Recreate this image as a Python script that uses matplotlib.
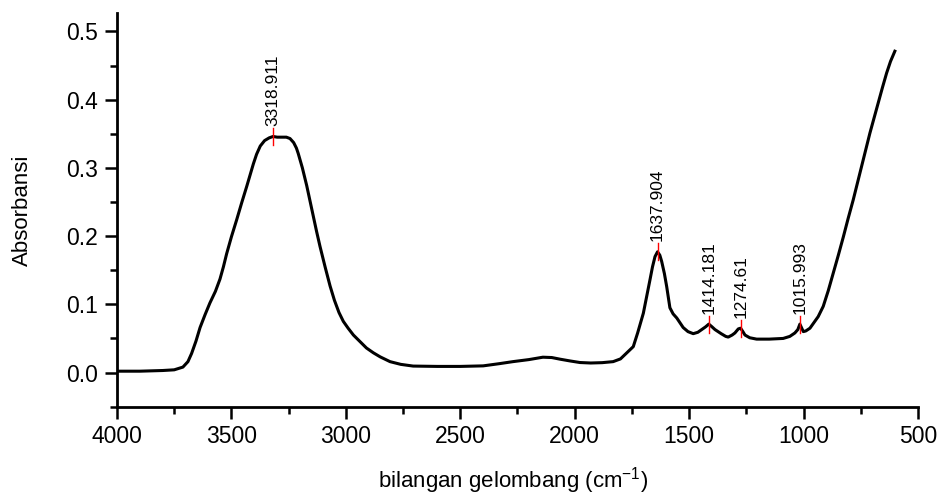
import numpy as np
from matplotlib import pyplot as plt

plt.rcParams['font.family'] = ['Liberation Sans', 'DejaVu Sans']
plt.rcParams['mathtext.default'] = 'regular'

# spectrum (wavenumber cm-1, absorbance)
wavenumber = [4000, 3900, 3800, 3750, 3712, 3690, 3674, 3655, 3637, 3615,
              3594, 3570, 3550, 3535, 3521, 3500, 3477, 3455, 3433, 3418,
              3404, 3390, 3374, 3355, 3335, 3318, 3300, 3280, 3260, 3244,
              3228, 3216, 3208, 3190, 3171, 3157, 3142, 3128, 3113, 3090,
              3069, 3050, 3030, 3011, 2990, 2967, 2940, 2910, 2880, 2850,
              2807, 2760, 2706, 2600, 2500, 2400, 2330, 2270, 2200, 2139,
              2100, 2064, 2020, 1977, 1930, 1880, 1832, 1800, 1772, 1744,
              1725, 1700, 1685, 1671, 1660, 1649, 1638, 1628, 1620, 1608,
              1598, 1590, 1584, 1570, 1554, 1540, 1526, 1505, 1482, 1462,
              1445, 1428, 1414, 1400, 1387, 1360, 1340, 1329, 1312, 1300,
              1285, 1275, 1265, 1256, 1235, 1205, 1150, 1089, 1060, 1038,
              1025, 1016, 1008, 1001, 990, 972, 955, 936, 914, 892,
              870, 848, 826, 805, 783, 765, 746, 728, 710, 692,
              674, 655, 637, 620, 601]
absorbance = [0.002, 0.002, 0.003, 0.004, 0.008, 0.016, 0.028, 0.046, 0.066, 0.085,
              0.102, 0.119, 0.137, 0.155, 0.174, 0.199, 0.224, 0.249, 0.273, 0.290,
              0.306, 0.320, 0.332, 0.340, 0.344, 0.346, 0.345, 0.345, 0.345, 0.343,
              0.337, 0.329, 0.321, 0.300, 0.274, 0.252, 0.229, 0.207, 0.185, 0.154,
              0.127, 0.106, 0.088, 0.075, 0.065, 0.055, 0.046, 0.036, 0.029, 0.023,
              0.016, 0.012, 0.0095, 0.009, 0.009, 0.0098, 0.013, 0.016, 0.019, 0.0225,
              0.022, 0.0196, 0.017, 0.0147, 0.014, 0.0145, 0.016, 0.020, 0.029, 0.038,
              0.058, 0.087, 0.112, 0.136, 0.155, 0.170, 0.177, 0.172, 0.163, 0.145,
              0.126, 0.108, 0.095, 0.086, 0.080, 0.073, 0.066, 0.060, 0.057, 0.059,
              0.063, 0.067, 0.071, 0.067, 0.063, 0.057, 0.053, 0.052, 0.055, 0.058,
              0.064, 0.065, 0.060, 0.055, 0.051, 0.049, 0.049, 0.050, 0.053, 0.058,
              0.063, 0.071, 0.065, 0.060, 0.061, 0.065, 0.073, 0.082, 0.097, 0.120,
              0.146, 0.172, 0.199, 0.226, 0.253, 0.277, 0.302, 0.327, 0.351, 0.373,
              0.395, 0.418, 0.439, 0.456, 0.471]

peak_pos = [3318.911, 1637.904, 1414.181, 1274.61, 1015.993]
peak_labels = ["3318.911", "1637.904", "1414.181", "1274.61", "1015.993"]

fig = plt.figure(figsize=(9.39, 4.98), dpi=100)
ax = fig.add_axes([0.1246, 0.1834, 0.8530, 0.7905])

ax.plot(wavenumber, absorbance, color='black', lw=2.2, zorder=3)

# peak markers: red tick + rotated label
wn_asc = wavenumber[::-1]
ab_asc = absorbance[::-1]
for pos, lab in zip(peak_pos, peak_labels):
    y = np.interp(pos, wn_asc, ab_asc)
    ax.plot([pos, pos], [y - 0.0125, y + 0.0125], color='red', lw=1.0, zorder=4)
    ax.annotate(lab, (pos, y), xytext=(0, 7.5), textcoords='offset points',
                rotation=90, ha='center', va='bottom', fontsize=12.5)

ax.set_xlim(4000, 500)
ax.set_ylim(-0.05, 0.527)
ax.set_xticks(np.arange(4000, 499, -500))
ax.set_xticks(np.arange(3750, 500, -500), minor=True)
ax.set_yticks([0.0, 0.1, 0.2, 0.3, 0.4, 0.5])
ax.set_yticks([-0.05, 0.05, 0.15, 0.25, 0.35, 0.45], minor=True)
ax.yaxis.set_major_formatter(plt.FormatStrFormatter('%.1f'))

for s in ['top', 'right']:
    ax.spines[s].set_visible(False)
for s in ['left', 'bottom']:
    ax.spines[s].set_linewidth(2.0)

ax.tick_params(which='major', direction='out', length=8.5, width=1.8, labelsize=16.5, pad=5)
ax.tick_params(which='minor', direction='out', length=5, width=1.8)

ax.set_xlabel("bilangan gelombang (cm$^{-1}$)", fontsize=16)
ax.set_ylabel("Absorbansi", fontsize=16)
ax.xaxis.set_label_coords(0.494, -0.148)
ax.yaxis.set_label_coords(-0.105, 0.5)

plt.savefig("out.png", dpi=100)
